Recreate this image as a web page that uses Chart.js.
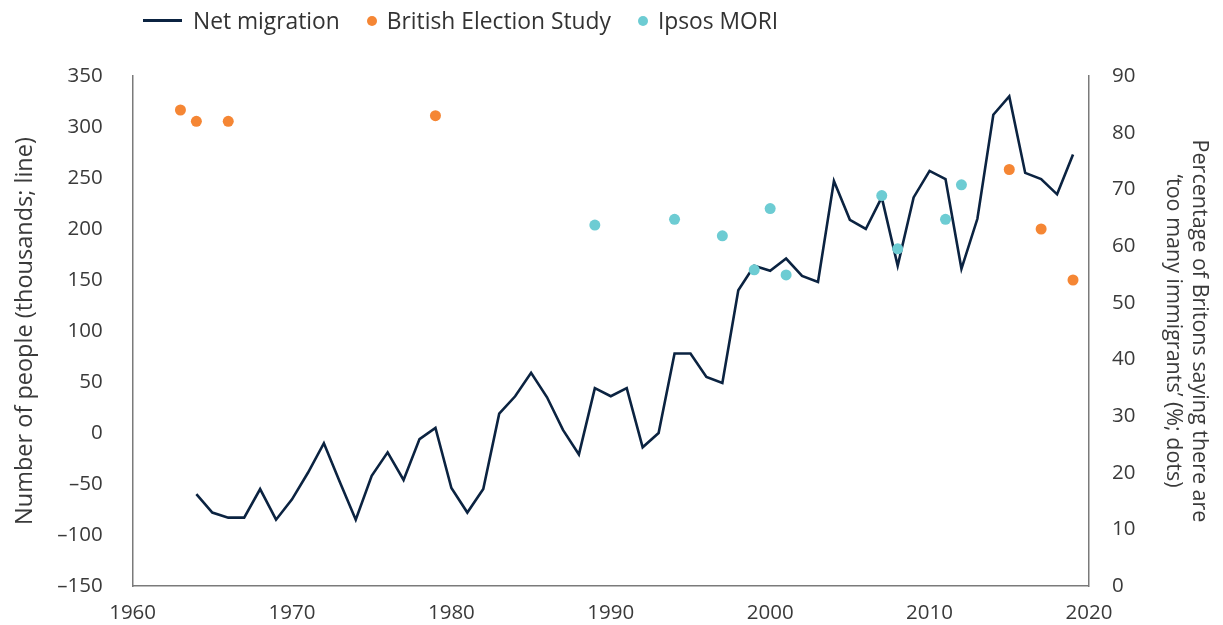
<!DOCTYPE html>
<html>
<head>
<meta charset="utf-8">
<script src="https://cdn.jsdelivr.net/npm/chart.js@4/dist/chart.umd.min.js"></script>
<style>
    body { margin: 0; background: #fff; font-family: "Open Sans", sans-serif; }
    #wrap { position: relative; width: 1223px; height: 625px; }
    #legend { position: absolute; top: 7px; left: 143px; display: flex; align-items: center; font-size: 22.8px; color: #333; line-height: 1.2; }
    .item { display: flex; align-items: center; margin-right: 27px; }
    .line { width: 39px; height: 3px; background: #0b2341; margin-right: 11px; }
    .dot { width: 10px; height: 10px; border-radius: 50%; margin-right: 10px; }
</style>
</head>
<body>
<div id="wrap">
    <div id="legend">
        <div class="item"><span class="line"></span>Net migration</div>
        <div class="item"><span class="dot" style="background:#f58634"></span>British Election Study</div>
        <div class="item"><span class="dot" style="background:#6dccd3"></span>Ipsos MORI</div>
    </div>
    <canvas id="chart" width="1223" height="625"></canvas>
</div>
<script>
// ==============================
// Net migration vs attitudes
// ==============================

// Net migration (thousands), one value per year
const years = [
    1964, 1965, 1966, 1967, 1968, 1969, 1970, 1971, 1972, 1973,
    1974, 1975, 1976, 1977, 1978, 1979, 1980, 1981, 1982, 1983,
    1984, 1985, 1986, 1987, 1988, 1989, 1990, 1991, 1992, 1993,
    1994, 1995, 1996, 1997, 1998, 1999, 2000, 2001, 2002, 2003,
    2004, 2005, 2006, 2007, 2008, 2009, 2010, 2011, 2012, 2013,
    2014, 2015, 2016, 2017, 2018, 2019
];
const netMigration = [
    -60, -78, -83, -83, -55, -85, -65, -39, -10, -48,
    -85, -42, -19, -46, -6, 5, -54, -78, -55, 19,
    36, 59, 35, 3, -21, 44, 36, 44, -14, 0,
    78, 78, 55, 49, 140, 164, 159, 171, 154, 148,
    247, 209, 200, 231, 164, 231, 257, 249, 161, 210,
    312, 330, 255, 249, 234, 273
];

// Survey dots (% saying "too many immigrants")
const besYears = [1963, 1964, 1966, 1979, 2015, 2017, 2019];
const besValues = [84, 82, 82, 83, 73.5, 63, 54];

const ipsosYears = [1989, 1994, 1997, 1999, 2000, 2001, 2007, 2008, 2011, 2012];
const ipsosValues = [63.7, 64.7, 61.8, 55.8, 66.6, 54.9, 68.9, 59.5, 64.7, 70.8];

// Axis ranges: min, max, step
const xTicks = [1960, 2020, 10];
const leftTicks = [-150, 350, 50];
const rightTicks = [0, 90, 10];

const toPoints = (xs, ys) => xs.map((x, i) => ({ x: x, y: ys[i] }));

const tickFont = { family: "Open Sans", size: 20.5 };
// tight line height on the y axes so their end labels don't eat the bottom margin
const yTickFont = { family: "Open Sans", size: 20.5, lineHeight: 0.8 };
const tickColor = "#3a3a3a";
const axisBorder = { display: true, color: "#7a7a7a", width: 1.5 };

// -----------------------------
// Chart
// -----------------------------

const chart = new Chart(
    document.getElementById("chart"),
    {
        type: "line",
        data: {
            datasets: [
                {
                    label: "Net migration",
                    data: toPoints(years, netMigration),
                    borderColor: "#0b2341",
                    borderWidth: 2.6,
                    pointRadius: 0,
                    tension: 0,
                    yAxisID: "y",
                    order: 3
                },
                {
                    type: "scatter",
                    label: "British Election Study",
                    data: toPoints(besYears, besValues),
                    backgroundColor: "#f58634",
                    borderWidth: 0,
                    pointRadius: 5.5,
                    yAxisID: "y1",
                    order: 1
                },
                {
                    type: "scatter",
                    label: "Ipsos MORI",
                    data: toPoints(ipsosYears, ipsosValues),
                    backgroundColor: "#6dccd3",
                    borderWidth: 0,
                    pointRadius: 5.5,
                    yAxisID: "y1",
                    order: 2
                }
            ]
        },
        options: {
            responsive: false,
            animation: false,
            layout: {
                padding: { top: 76, bottom: -15.6, left: 0, right: 0 }
            },
            plugins: {
                legend: { display: false },
                tooltip: { enabled: false }
            },
            scales: {
                x: {
                    type: "linear",
                    min: xTicks[0],
                    max: xTicks[1],
                    grid: { display: false, drawTicks: false },
                    border: axisBorder,
                    ticks: {
                        stepSize: xTicks[2],
                        padding: 15,
                        color: tickColor,
                        font: tickFont,
                        callback: v => String(v)
                    }
                },
                y: {
                    position: "left",
                    min: leftTicks[0],
                    max: leftTicks[1],
                    grid: { display: false, drawTicks: false },
                    border: axisBorder,
                    ticks: {
                        stepSize: leftTicks[2],
                        padding: 30,
                        color: tickColor,
                        font: yTickFont,
                        callback: v => String(v).replace("-", "\u2013")
                    },
                    title: {
                        display: true,
                        text: "Number of people (thousands; line)",
                        color: tickColor,
                        font: { family: "Open Sans", size: 23.5, lineHeight: 1.2 },
                        padding: { top: 11, bottom: -12 }
                    }
                },
                y1: {
                    position: "right",
                    min: rightTicks[0],
                    max: rightTicks[1],
                    grid: { display: false, drawTicks: false },
                    border: axisBorder,
                    ticks: {
                        stepSize: rightTicks[2],
                        padding: 23,
                        color: tickColor,
                        font: yTickFont
                    },
                    title: {
                        display: true,
                        text: ["Percentage of Britons saying there are", "\u2018too many immigrants\u2019 (%; dots)"],
                        color: tickColor,
                        font: { family: "Open Sans", size: 21.5, lineHeight: 1.2 },
                        padding: { top: 11, bottom: 2 }
                    }
                }
            }
        }
    }
);
</script>
</body>
</html>
